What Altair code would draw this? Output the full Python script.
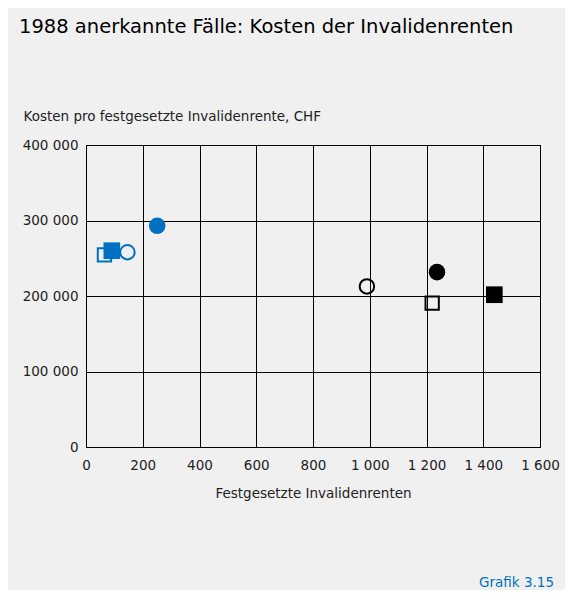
import altair as alt
import pandas as pd

# --- data ---
gruppe = ["blau", "blau", "blau", "blau", "schwarz", "schwarz", "schwarz", "schwarz"]
form = ["Quadrat", "Quadrat", "Kreis", "Kreis", "Kreis", "Kreis", "Quadrat", "Quadrat"]
gefuellt = [False, True, False, True, False, True, False, True]
renten = [65, 91, 146, 251, 990, 1237, 1220, 1439]
kosten = [254500, 260000, 258000, 293000, 212700, 231600, 190600, 201700]

x_ticks = [0, 200, 400, 600, 800, 1000, 1200, 1400, 1600]
y_ticks = [0, 100000, 200000, 300000, 400000]

titel = "1988 anerkannte Fälle: Kosten der Invalidenrenten"
y_titel = "Kosten pro festgesetzte Invalidenrente, CHF"
x_titel = "Festgesetzte Invalidenrenten"
quelle = "Grafik 3.15"

df = pd.DataFrame({"Gruppe": gruppe, "Form": form, "gefuellt": gefuellt,
                   "Renten": renten, "Kosten": kosten})

FONT = "DejaVu Sans"
BLUE = "#0070c0"
BG = "#f0f0f0"

label_expr = "replace(format(datum.value, ','), ',', ' ')"

x_enc = alt.X("Renten:Q",
              scale=alt.Scale(domain=[0, 1600], nice=False, zero=False),
              axis=alt.Axis(values=x_ticks, title=x_titel, labelExpr=label_expr,
                            ticks=False, labelPadding=11, labelOverlap=False,
                            labelBound=False, labelFlush=False,
                            titleX=227, titleY=50, titleBaseline="alphabetic",
                            titleAlign="center"))
y_enc = alt.Y("Kosten:Q",
              scale=alt.Scale(domain=[0, 400000], nice=False),
              axis=alt.Axis(values=y_ticks, title=y_titel, labelExpr=label_expr,
                            ticks=False, labelPadding=8, labelOverlap=False,
                            labelFlush=False,
                            titleX=-63, titleY=-25, titleAngle=0,
                            titleAlign="left", titleBaseline="alphabetic"))
color_enc = alt.Color("Gruppe:N", scale=alt.Scale(domain=["blau", "schwarz"], range=[BLUE, "#000000"]), legend=None)
shape_enc = alt.Shape("Form:N", scale=alt.Scale(domain=["Kreis", "Quadrat"], range=["circle", "square"]), legend=None)

base = alt.Chart(df).encode(x=x_enc, y=y_enc, color=color_enc, shape=shape_enc)

open_sq = base.transform_filter("!datum.gefuellt && datum.Form == 'Quadrat'").mark_point(
    filled=False, strokeWidth=2, size=177, opacity=1)
open_ci = base.transform_filter("!datum.gefuellt && datum.Form == 'Kreis'").mark_point(
    filled=False, strokeWidth=2, size=209, opacity=1)
fill_sq = base.transform_filter("datum.gefuellt && datum.Form == 'Quadrat'").mark_point(
    filled=True, size=278, opacity=1)
fill_ci = base.transform_filter("datum.gefuellt && datum.Form == 'Kreis'").mark_point(
    filled=True, size=275, opacity=1)

title_text = alt.Chart(pd.DataFrame({"t": [titel]})).mark_text(
    align="left", baseline="alphabetic", font=FONT, fontSize=19.5, color="#000000"
).encode(text="t:N", x=alt.value(-67), y=alt.value(-112))

source_text = alt.Chart(pd.DataFrame({"t": [quelle]})).mark_text(
    align="right", baseline="alphabetic", font=FONT, fontSize=13.5, color=BLUE
).encode(text="t:N", x=alt.value(468), y=alt.value(442))

chart = alt.layer(open_sq, fill_sq, open_ci, fill_ci, title_text, source_text).properties(
    width=454, height=302,
    autosize=alt.AutoSizeParams(type="none"),
    padding={"left": 78, "top": 137, "right": 25, "bottom": 143},
    background=BG,
).configure_view(
    stroke="#000000", strokeWidth=1, fill=BG
).configure_axis(
    domainColor="#000000", domainWidth=1,
    gridColor="#000000", gridOpacity=1, gridWidth=1,
    labelFont=FONT, labelFontSize=13.5, labelColor="#222222",
    titleFont=FONT, titleFontSize=13.5, titleColor="#222222", titleFontWeight="normal",
)

chart.save("out.html", embed_options={"renderer": "svg", "actions": False})
